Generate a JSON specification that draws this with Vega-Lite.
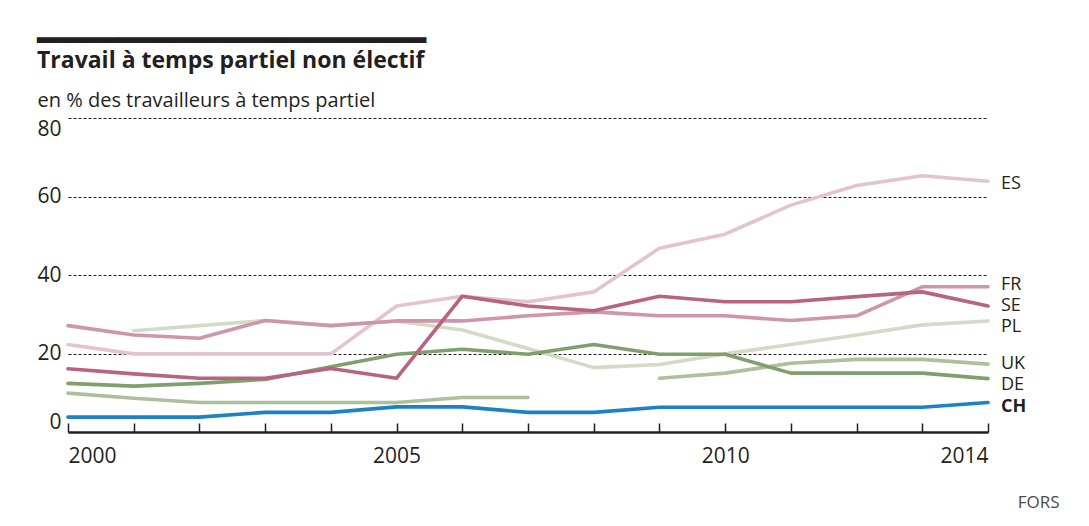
{
  "$schema": "https://vega.github.io/schema/vega-lite/v6.json",
  "width": 920,
  "height": 314,
  "autosize": {"type": "none"},
  "padding": {"left": 68, "top": 118, "right": 101, "bottom": 94},
  "background": "white",
  "config": {"view": {"stroke": null}, "font": "Open Sans"},
  "title": {
    "text": "━━━━━━━━━━━━━━━━━━━",
    "subtitle": "Travail à temps partiel non électif",
    "anchor": "start",
    "frame": "bounds",
    "font": "DejaVu Sans",
    "fontSize": 34,
    "fontWeight": "bold",
    "color": "#231f20",
    "subtitleFont": "Open Sans",
    "subtitleFontSize": 23,
    "subtitleFontWeight": "bold",
    "subtitleColor": "#231f20",
    "subtitlePadding": -9,
    "offset": 17
  },
  "data": {"values": [
    {"country":"ES","year":2000,"value":22.3},{"country":"ES","year":2001,"value":19.9},{"country":"ES","year":2002,"value":19.9},{"country":"ES","year":2003,"value":19.9},{"country":"ES","year":2004,"value":19.9},{"country":"ES","year":2005,"value":32.1},{"country":"ES","year":2006,"value":34.6},{"country":"ES","year":2007,"value":33.2},{"country":"ES","year":2008,"value":35.7},{"country":"ES","year":2009,"value":46.8},{"country":"ES","year":2010,"value":50.4},{"country":"ES","year":2011,"value":57.8},{"country":"ES","year":2012,"value":62.8},{"country":"ES","year":2013,"value":65.3},{"country":"ES","year":2014,"value":63.9},
    {"country":"PL","year":2001,"value":25.8},{"country":"PL","year":2002,"value":27.1},{"country":"PL","year":2003,"value":28.4},{"country":"PL","year":2004,"value":27.1},{"country":"PL","year":2005,"value":28.3},{"country":"PL","year":2006,"value":26.0},{"country":"PL","year":2007,"value":21.3},{"country":"PL","year":2008,"value":16.4},{"country":"PL","year":2009,"value":17.2},{"country":"PL","year":2010,"value":19.9},{"country":"PL","year":2011,"value":22.3},{"country":"PL","year":2012,"value":24.7},{"country":"PL","year":2013,"value":27.3},{"country":"PL","year":2014,"value":28.3},
    {"country":"UK","year":2000,"value":9.9},{"country":"UK","year":2001,"value":8.6},{"country":"UK","year":2002,"value":7.5},{"country":"UK","year":2003,"value":7.5},{"country":"UK","year":2004,"value":7.5},{"country":"UK","year":2005,"value":7.5},{"country":"UK","year":2006,"value":8.8},{"country":"UK","year":2007,"value":8.8},{"country":"UK","year":2008,"value":null},{"country":"UK","year":2009,"value":13.7},{"country":"UK","year":2010,"value":15.0},{"country":"UK","year":2011,"value":17.5},{"country":"UK","year":2012,"value":18.5},{"country":"UK","year":2013,"value":18.5},{"country":"UK","year":2014,"value":17.3},
    {"country":"FR","year":2000,"value":27.1},{"country":"FR","year":2001,"value":24.7},{"country":"FR","year":2002,"value":23.9},{"country":"FR","year":2003,"value":28.4},{"country":"FR","year":2004,"value":27.1},{"country":"FR","year":2005,"value":28.3},{"country":"FR","year":2006,"value":28.3},{"country":"FR","year":2007,"value":29.6},{"country":"FR","year":2008,"value":30.6},{"country":"FR","year":2009,"value":29.6},{"country":"FR","year":2010,"value":29.6},{"country":"FR","year":2011,"value":28.4},{"country":"FR","year":2012,"value":29.6},{"country":"FR","year":2013,"value":37.0},{"country":"FR","year":2014,"value":37.0},
    {"country":"DE","year":2000,"value":12.4},{"country":"DE","year":2001,"value":11.7},{"country":"DE","year":2002,"value":12.4},{"country":"DE","year":2003,"value":13.4},{"country":"DE","year":2004,"value":16.6},{"country":"DE","year":2005,"value":19.8},{"country":"DE","year":2006,"value":21.1},{"country":"DE","year":2007,"value":19.8},{"country":"DE","year":2008,"value":22.3},{"country":"DE","year":2009,"value":19.8},{"country":"DE","year":2010,"value":19.8},{"country":"DE","year":2011,"value":15.0},{"country":"DE","year":2012,"value":15.0},{"country":"DE","year":2013,"value":15.0},{"country":"DE","year":2014,"value":13.6},
    {"country":"SE","year":2000,"value":16.1},{"country":"SE","year":2001,"value":14.8},{"country":"SE","year":2002,"value":13.7},{"country":"SE","year":2003,"value":13.7},{"country":"SE","year":2004,"value":16.2},{"country":"SE","year":2005,"value":13.7},{"country":"SE","year":2006,"value":34.6},{"country":"SE","year":2007,"value":32.1},{"country":"SE","year":2008,"value":30.9},{"country":"SE","year":2009,"value":34.6},{"country":"SE","year":2010,"value":33.2},{"country":"SE","year":2011,"value":33.2},{"country":"SE","year":2012,"value":34.5},{"country":"SE","year":2013,"value":35.7},{"country":"SE","year":2014,"value":32.1},
    {"country":"CH","year":2000,"value":3.8},{"country":"CH","year":2001,"value":3.8},{"country":"CH","year":2002,"value":3.8},{"country":"CH","year":2003,"value":5.0},{"country":"CH","year":2004,"value":5.0},{"country":"CH","year":2005,"value":6.4},{"country":"CH","year":2006,"value":6.4},{"country":"CH","year":2007,"value":5.0},{"country":"CH","year":2008,"value":5.0},{"country":"CH","year":2009,"value":6.3},{"country":"CH","year":2010,"value":6.3},{"country":"CH","year":2011,"value":6.3},{"country":"CH","year":2012,"value":6.3},{"country":"CH","year":2013,"value":6.3},{"country":"CH","year":2014,"value":7.5}
  ]},
  "encoding": {
    "x": {
      "field": "year", "type": "quantitative",
      "scale": {"domain": [2000, 2014], "nice": false, "zero": false},
      "axis": {
        "values": [2000,2001,2002,2003,2004,2005,2006,2007,2008,2009,2010,2011,2012,2013,2014],
        "format": "d",
        "labelExpr": "(datum.value==2000||datum.value==2005||datum.value==2010||datum.value==2014) ? datum.label : ''",
        "labelFlush": true,
        "labelFontSize": 21,
        "labelColor": "#231f20",
        "labelPadding": 22,
        "grid": false,
        "domainColor": "#231f20",
        "domainWidth": 2.5,
        "tickColor": "#231f20",
        "tickWidth": 1.5,
        "tickSize": -9,
        "title": "FORS",
        "titleFontSize": 17,
        "titleFontWeight": "normal",
        "titleColor": "#4a4a4a",
        "titleAlign": "right",
        "titleAnchor": "end",
        "titleX": 991,
        "titleY": 70,
        "titleBaseline": "middle"
      }
    },
    "y": {
      "field": "value", "type": "quantitative",
      "scale": {"domain": [0, 80], "nice": false},
      "axis": {
        "values": [0, 20, 40, 60, 80],
        "title": "en % des travailleurs à temps partiel",
        "titleAngle": 0,
        "titleAlign": "left",
        "titleBaseline": "alphabetic",
        "titleX": -31,
        "titleY": -12,
        "titleFontSize": 20,
        "titleFontWeight": "normal",
        "titleColor": "#231f20",
        "domain": false,
        "ticks": false,
        "grid": true,
        "gridDash": [3, 2],
        "gridColor": "#231f20",
        "gridWidth": 1,
        "labelFlush": true,
        "labelFontSize": 21,
        "labelColor": "#231f20",
        "labelPadding": 7
      }
    }
  },
  "layer": [
    {
      "mark": {"type": "line", "strokeWidth": 3.6, "strokeCap": "round", "strokeJoin": "round", "invalid": "break-paths-show-domains"},
      "encoding": {
        "color": {
          "field": "country", "type": "nominal", "legend": null,
          "scale": {"domain": ["ES","PL","UK","FR","DE","SE","CH"], "range": ["#e3c4ce","#d3dbc7","#adc09c","#cf95a9","#7fa06d","#b8637f","#1b82c5"]}
        }
      }
    },
    {
      "transform": [{"filter": "datum.year == 2014 && (datum.country == 'SE' || datum.country == 'UK')"}],
      "mark": {"type": "text", "align": "left", "baseline": "middle", "dx": 13, "dy": 0, "fontSize": 18, "color": "#231f20"},
      "encoding": {"text": {"field": "country"}}
    },
    {
      "transform": [{"filter": "datum.year == 2014 && datum.country == 'ES'"}],
      "mark": {"type": "text", "align": "left", "baseline": "middle", "dx": 13, "dy": 3, "fontSize": 18, "color": "#231f20"},
      "encoding": {"text": {"field": "country"}}
    },
    {
      "transform": [{"filter": "datum.year == 2014 && datum.country == 'FR'"}],
      "mark": {"type": "text", "align": "left", "baseline": "middle", "dx": 13, "dy": -2, "fontSize": 18, "color": "#231f20"},
      "encoding": {"text": {"field": "country"}}
    },
    {
      "transform": [{"filter": "datum.year == 2014 && (datum.country == 'PL' || datum.country == 'DE')"}],
      "mark": {"type": "text", "align": "left", "baseline": "middle", "dx": 13, "dy": 6, "fontSize": 18, "color": "#231f20"},
      "encoding": {"text": {"field": "country"}}
    },
    {
      "transform": [{"filter": "datum.year == 2014 && datum.country == 'CH'"}],
      "mark": {"type": "text", "align": "left", "baseline": "middle", "dx": 13, "dy": 4, "fontSize": 18, "fontWeight": "bold", "color": "#231f20"},
      "encoding": {"text": {"field": "country"}}
    }
  ]
}
